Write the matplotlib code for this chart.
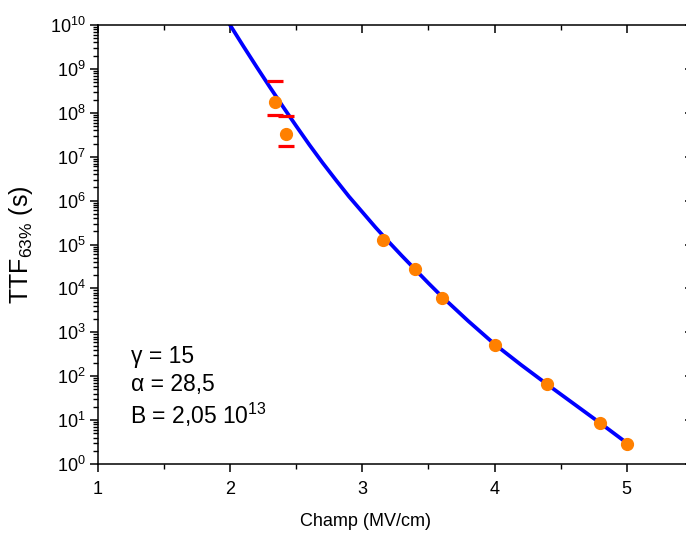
import numpy as np
import matplotlib
matplotlib.use("Agg")
import matplotlib.pyplot as plt
from matplotlib.ticker import LogLocator, MultipleLocator, NullFormatter

plt.rcParams['font.family'] = ['Liberation Sans', 'DejaVu Sans']
plt.rcParams['mathtext.fontset'] = 'custom'
plt.rcParams['mathtext.rm'] = 'Liberation Sans'
plt.rcParams['mathtext.it'] = 'Liberation Sans:italic'
plt.rcParams['mathtext.bf'] = 'Liberation Sans:bold'

# mesures (champ en MV/cm, TTF 63% en s)
champ = [2.34, 2.42, 3.16, 3.40, 3.60, 4.00, 4.40, 4.80, 5.00]
ttf = [1.75e8, 3.3e7, 1.3e5, 2.7e4, 6.2e3, 5.1e2, 66, 8.5, 2.9]

# barres d'erreur (seulement les deux premiers points)
err_champ = [2.34, 2.42]
err_ttf = [1.75e8, 3.3e7]
err_bas = [8.8e7, 1.75e7]
err_haut = [5.3e8, 8.3e7]

# courbe du modele (log10 du TTF)
courbe_champ = [2.00, 2.10, 2.20, 2.30, 2.40, 2.50, 2.60, 2.70, 2.80, 2.90,
                3.00, 3.10, 3.20, 3.30, 3.40, 3.50, 3.60, 3.80, 4.00, 4.20,
                4.40, 4.60, 4.80, 5.00]
courbe_log = [10.00, 9.52, 9.05, 8.59, 8.14, 7.70, 7.27, 6.86, 6.47, 6.09,
              5.74, 5.39, 5.06, 4.74, 4.43, 4.12, 3.82, 3.26, 2.73, 2.26,
              1.81, 1.37, 0.93, 0.48]

fig = plt.figure(figsize=(6.86, 5.38), dpi=100)
ax = fig.add_axes([0.1426, 0.1375, 0.8675, 0.816])

ax.plot(courbe_champ, 10.0 ** np.array(courbe_log), color='#0000FF', lw=2.7, zorder=2)
ax.plot(champ, ttf, 'o', color='#FF8000', ms=8.5, mec='#FF8000', zorder=3)

yerr = [np.array(err_ttf) - np.array(err_bas), np.array(err_haut) - np.array(err_ttf)]
ax.errorbar(err_champ, err_ttf, yerr=yerr, fmt='none', ecolor='#FF0000',
            elinewidth=0, capsize=5.5, capthick=2.3, zorder=4)

ax.set_yscale('log')
ax.set_xlim(1, 5.5)
ax.set_ylim(1, 1e10)

ax.xaxis.set_major_locator(MultipleLocator(1))
ax.xaxis.set_minor_locator(MultipleLocator(0.5))
ax.yaxis.set_major_locator(LogLocator(base=10, numticks=20))
ax.yaxis.set_minor_locator(LogLocator(base=10, subs=np.arange(2, 10), numticks=20))
ax.yaxis.set_minor_formatter(NullFormatter())

for s in ax.spines.values():
    s.set_linewidth(1.1)

ax.tick_params(axis='both', which='major', labelsize=13, width=1.1, length=6)
ax.tick_params(axis='both', which='minor', width=1.0, length=3.5)
ax.tick_params(axis='both', which='both', top=True, right=True)
ax.tick_params(axis='x', which='both', direction='out', pad=6)
ax.tick_params(axis='y', which='both', direction='out', pad=3)
# ticks du haut et de droite vers l'interieur
for t in ax.xaxis.get_major_ticks() + ax.xaxis.get_minor_ticks():
    t.tick2line.set_marker(3)
for t in ax.yaxis.get_major_ticks() + ax.yaxis.get_minor_ticks():
    t.tick2line.set_marker(0)

ax.set_xlabel('Champ (MV/cm)', fontsize=13)
ax.xaxis.set_label_coords(0.45, -0.112)
ax.set_ylabel('TTF$_{63\\%}$ (s)', fontsize=18)
ax.yaxis.set_label_coords(-0.105, 0.5)

ax.text(1.25, 10 ** 2.46, '\u03b3 = 15', fontsize=16.5, va='center')
ax.text(1.25, 10 ** 1.82, '\u03b1 = 28,5', fontsize=16.5, va='center')
ax.text(1.24, 10 ** 1.12, 'B = 2,05 10$^{13}$', fontsize=16.5, va='center')

fig.savefig('out.png', dpi=100)
